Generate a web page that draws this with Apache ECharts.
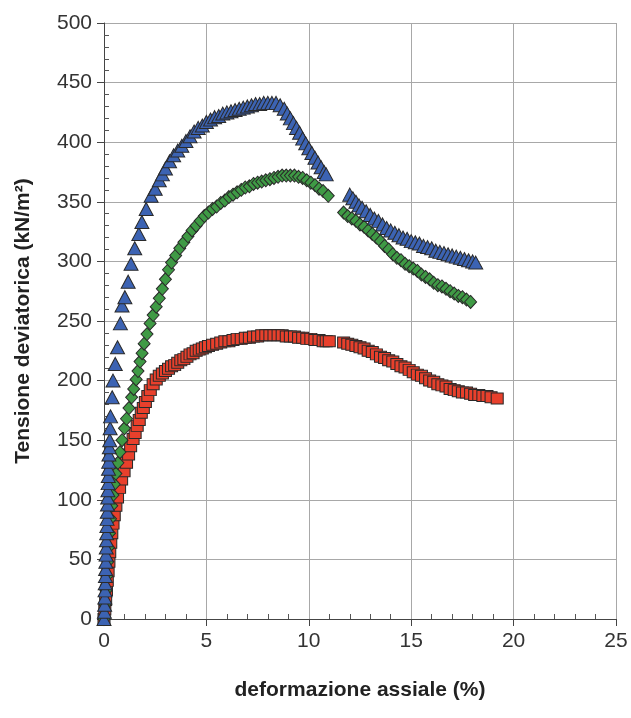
<!DOCTYPE html>
<html>
<head>
<meta charset="utf-8">
<script src="https://cdn.jsdelivr.net/npm/echarts@6/dist/echarts.min.js"></script>
<style>html,body{margin:0;padding:0;background:#fff}#c{width:631px;height:718px}</style>
</head>
<body>
<div id="c"></div>
<script>
var xTicks = ['0','5','10','15','20','25'];
var yTicks = ['0','50','100','150','200','250','300','350','400','450','500'];
var xTitle = 'deformazione assiale (%)';
var yTitle = 'Tensione deviatorica (kN/m²)';

var blueData = [[0,0],[0.02,6],[0.03,12],[0.04,18],[0.05,24],[0.06,30],[0.07,36],[0.08,42],[0.09,48],[0.1,54],[0.11,60],[0.12,66],[0.13,72],[0.14,78],[0.15,84],[0.16,90],[0.17,96],[0.18,102],[0.19,108],[0.2,114],[0.21,120],[0.22,126],[0.23,132],[0.24,138],[0.26,144],[0.28,150],[0.3,160],[0.32,170],[0.4,186],[0.44,200],[0.55,214],[0.66,228],[0.8,248],[0.88,263],[1.02,270],[1.18,283],[1.32,298],[1.5,311],[1.7,323],[1.85,333],[2.06,344],[2.3,355],[2.5,361],[2.7,368],[2.85,373],
[3.0,378],[3.2,384],[3.4,389],[3.6,393],[3.8,397],[4.0,401],[4.2,405],[4.4,409],[4.6,412],[4.8,414],[5.0,417],[5.2,419],[5.4,421],[5.6,422],[5.8,424],[6.0,425],[6.2,426],[6.4,427],[6.6,428],[6.8,429],[7.0,430],[7.2,431],[7.4,432],[7.6,432],[7.8,433],[8.0,433],[8.2,433],[8.4,433],[8.6,431],[8.8,428],[8.95,424],[9.1,420],[9.25,416],[9.4,412],[9.55,408],[9.7,403],[9.85,399],[10.0,395],[10.15,391],[10.3,387],[10.45,383],[10.6,379],[10.75,375],[10.85,373],
[12.0,356],[12.15,353],[12.3,350],[12.45,347],[12.6,345],[12.8,342],[13.0,339],[13.2,336],[13.4,334],[13.6,331],[13.8,328],[14.0,326],[14.2,324],[14.4,322],[14.6,320],[14.8,319],[15.0,317],[15.2,316],[15.4,315],[15.6,313],[15.8,312],[16.0,311],[16.2,309],[16.4,308],[16.6,307],[16.8,306],[17.0,305],[17.2,304],[17.4,303],[17.6,302],[17.8,301],[18.0,300],[18.15,299]];

var greenData = [[0,0],[0.05,12],[0.1,24],[0.14,36],[0.18,48],[0.22,60],[0.27,72],[0.32,84],[0.38,95],[0.44,104],[0.5,113],[0.58,122],[0.68,131],[0.78,140],[0.88,150],[1.0,160],[1.1,168],[1.22,177],[1.35,186],[1.45,193],[1.57,201],[1.66,208],[1.76,216],[1.86,223],[1.96,231],[2.1,239],[2.25,248],[2.4,255],[2.55,262],[2.7,269],[2.85,277],[3.0,285],[3.15,293],
[3.3,299],[3.5,305],[3.7,311],[3.9,316],[4.1,321],[4.3,326],[4.5,330],[4.7,334],[4.9,338],[5.1,341],[5.3,344],[5.5,346],[5.7,349],[5.9,351],[6.1,354],[6.3,356],[6.5,358],[6.7,360],[6.9,362],[7.1,363],[7.3,365],[7.5,366],[7.7,367],[7.9,368],[8.1,369],[8.3,370],[8.5,371],[8.7,372],[8.9,372],[9.1,372],[9.3,372],[9.5,371],[9.7,370],[9.9,368],[10.1,366],[10.3,364],[10.5,361],[10.7,359],[10.95,355],
[11.7,341],[11.9,338],[12.1,336],[12.3,334],[12.5,331],[12.7,329],[12.9,326],[13.1,323],[13.3,320],[13.5,317],[13.7,313],[13.9,310],[14.1,306],[14.3,303],[14.5,301],[14.7,298],[14.9,296],[15.1,294],[15.3,292],[15.5,289],[15.7,287],[15.9,285],[16.1,282],[16.3,280],[16.5,279],[16.7,277],[16.9,275],[17.1,273],[17.3,271],[17.5,270],[17.7,268],[17.9,266]];

var redData = [[0,0],[0.04,8],[0.08,16],[0.12,24],[0.16,32],[0.2,40],[0.24,48],[0.28,56],[0.33,64],[0.38,72],[0.44,80],[0.5,87],[0.58,95],[0.66,102],[0.76,110],[0.86,117],[0.98,124],[1.1,131],[1.2,138],[1.3,145],[1.42,151],[1.52,156],[1.62,162],[1.72,167],[1.82,173],[1.92,177],[2.02,182],[2.14,187],[2.26,192],
[2.4,197],[2.55,201],[2.7,204],[2.85,206],[3.0,208],[3.15,210],[3.3,212],[3.45,213],[3.6,215],[3.75,217],[3.9,218],[4.05,220],[4.2,222],[4.35,223],[4.5,225],[4.65,226],[4.8,227],[4.95,228],[5.1,229],[5.3,230],[5.5,231],[5.7,232],[5.9,233],[6.1,233],[6.3,234],[6.5,235],[6.7,235],[6.9,236],[7.1,236],[7.3,237],[7.5,237],[7.7,238],[7.9,238],[8.1,238],[8.3,238],[8.5,238],[8.7,238],[8.9,237],[9.1,237],[9.3,237],[9.5,236],[9.7,236],[9.9,235],[10.1,235],[10.3,234],[10.5,234],[10.7,233],[10.85,233],[11.0,233],
[11.7,232],[11.9,231],[12.1,230],[12.3,229],[12.5,228],[12.7,227],[12.9,225],[13.1,224],[13.3,222],[13.5,220],[13.7,219],[13.9,217],[14.1,216],[14.3,214],[14.5,212],[14.7,211],[14.9,209],[15.1,207],[15.3,205],[15.5,204],[15.7,202],[15.9,200],[16.1,199],[16.3,197],[16.5,196],[16.7,195],[16.9,193],[17.1,192],[17.3,191],[17.5,190],[17.7,190],[17.9,189],[18.1,188],[18.3,188],[18.5,187],[18.7,187],[18.9,186],[19.2,185]];

var FONT = '"Liberation Sans", Arial, sans-serif';
var chart = echarts.init(document.getElementById('c'), null, {renderer: 'canvas'});
function mk(name, data, symbol, size, color) {
  return {
    name: name, type: 'scatter', data: data, symbol: symbol, symbolSize: size,
    itemStyle: {color: color, borderColor: '#2a2a2a', borderWidth: 1, opacity: 1},
    emphasis: {disabled: true}, animation: false
  };
}
chart.setOption({
  animation: false,
  backgroundColor: '#ffffff',
  grid: {left: 104, right: 15, top: 23, bottom: 99, containLabel: false},
  xAxis: {
    type: 'value', min: 0, max: 25, interval: 5,
    name: xTitle, nameLocation: 'middle', nameGap: 61,
    nameTextStyle: {fontFamily: FONT, fontSize: 21, fontWeight: 'bold', color: '#222'},
    axisLine: {show: true, onZero: false, lineStyle: {color: '#444', width: 1}},
    axisTick: {show: true, inside: false, length: 7, lineStyle: {color: '#444'}},
    minorTick: {show: true, splitNumber: 5, length: -5, lineStyle: {color: '#555'}},
    axisLabel: {fontFamily: FONT, fontSize: 21, color: '#333', margin: 12,
      formatter: function (v) { return xTicks[Math.round(v / 5)]; }},
    splitLine: {show: true, lineStyle: {color: '#a8a8a8', width: 1}}
  },
  yAxis: {
    type: 'value', min: 0, max: 500, interval: 50,
    name: yTitle, nameLocation: 'middle', nameGap: 70, nameRotate: 90,
    nameTextStyle: {fontFamily: FONT, fontSize: 21, fontWeight: 'bold', color: '#222'},
    axisLine: {show: true, onZero: false, lineStyle: {color: '#444', width: 1}},
    axisTick: {show: true, inside: false, length: 7, lineStyle: {color: '#444'}},
    minorTick: {show: true, splitNumber: 5, length: -5, lineStyle: {color: '#555'}},
    axisLabel: {fontFamily: FONT, fontSize: 21, color: '#333', margin: 12,
      formatter: function (v) { return yTicks[Math.round(v / 50)]; }},
    splitLine: {show: true, lineStyle: {color: '#a8a8a8', width: 1}}
  },
  series: [
    mk('rosso', redData, 'rect', [12, 11], '#e8402c'),
    mk('verde', greenData, 'diamond', [12, 13], '#3f9a45'),
    mk('blu', blueData, 'triangle', [14, 13], '#3c63b3')
  ]
});
</script>
</body>
</html>
